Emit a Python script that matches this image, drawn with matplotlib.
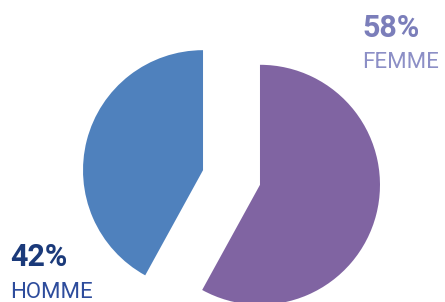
import matplotlib
matplotlib.use('Agg')
import matplotlib.pyplot as plt

# share by gender
labels = ['FEMME', 'HOMME']
values = [58, 42]
colors = ['#8064A2', '#4F81BD']

fig = plt.figure(figsize=(4.45, 3.02), dpi=100)
ax = fig.add_axes([0, 0, 1, 1])
ax.pie(values, colors=colors, startangle=90, counterclock=False,
       explode=[0.245, 0.245], radius=1.0)
ax.set_xlim(-1.929, 1.779)
ax.set_ylim(-1.0375, 1.479)
ax.set_aspect('equal')
ax.axis('off')

# labels
fig.text(362 / 445, 1 - 37 / 302, '%d%%' % values[0], fontsize=22, fontweight='bold',
         color='#7B7EBA', family='Roboto', va='baseline')
fig.text(362 / 445, 1 - 68 / 302, labels[0], fontsize=16,
         color='#8C8FC6', family='Roboto', va='baseline')
fig.text(10 / 445, 1 - 266 / 302, '%d%%' % values[1], fontsize=22, fontweight='bold',
         color='#1B3A7A', family='Roboto', va='baseline')
fig.text(10 / 445, 1 - 298 / 302, labels[1], fontsize=16,
         color='#2D4C9C', family='Roboto', va='baseline')

fig.savefig('out.png', dpi=100)
